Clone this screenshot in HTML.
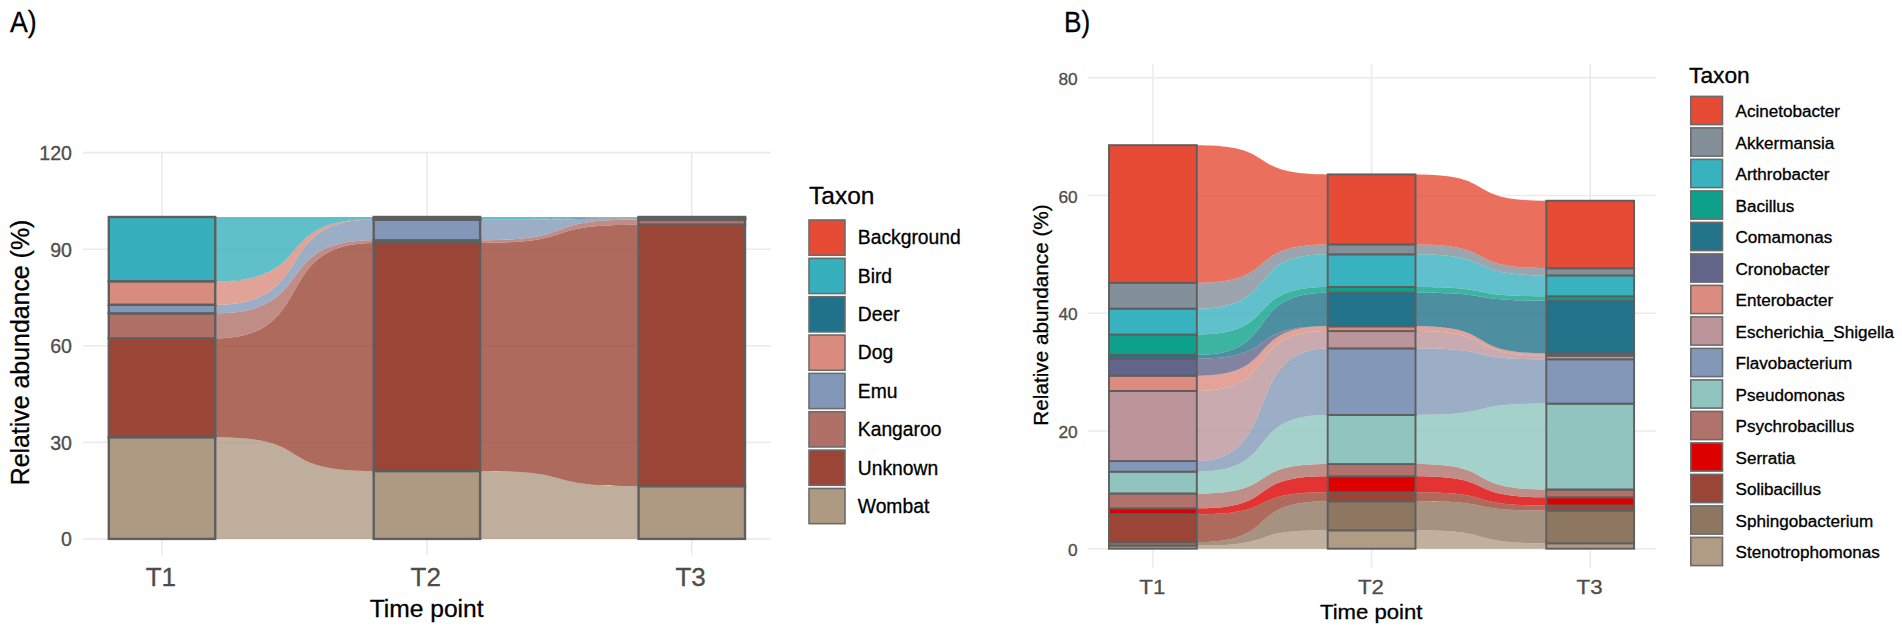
<!DOCTYPE html>
<html><head><meta charset="utf-8"><title>Alluvial plots</title>
<style>
html,body{margin:0;padding:0;background:#fff;width:1902px;height:638px;overflow:hidden}
svg{display:block;font-family:"Liberation Sans",Arial,sans-serif}
.g{stroke:#ebebeb;stroke-width:1.6}
.s{stroke:#5e5e5e;stroke-width:2.4}
.sb{stroke:#5e5e5e;stroke-width:1.9}
.k{stroke:#6b6b6b;stroke-width:1.6}
.lab{font-size:29.7px;fill:#000;stroke:#000;stroke-width:0.3}
.ta{font-size:19.6px;fill:#4d4d4d;stroke:#4d4d4d;stroke-width:0.3}
.tb{font-size:16px;fill:#4d4d4d;stroke:#4d4d4d;stroke-width:0.3}
.xa{font-size:26px;fill:#4d4d4d;stroke:#4d4d4d;stroke-width:0.3}
.xb{font-size:21px;fill:#4d4d4d;stroke:#4d4d4d;stroke-width:0.3}
.ttA{font-size:24.6px;fill:#000;stroke:#000;stroke-width:0.3}
.ttB{font-size:20.5px;fill:#000;stroke:#000;stroke-width:0.3}
.ytA{font-size:24.9px;fill:#000;stroke:#000;stroke-width:0.3}
.ytB{font-size:20.75px;fill:#000;stroke:#000;stroke-width:0.3}
.legtA{font-size:24.5px;fill:#000;stroke:#000;stroke-width:0.3}
.legtB{font-size:21.5px;fill:#000;stroke:#000;stroke-width:0.3}
.legA{font-size:19.3px;fill:#000;stroke:#000;stroke-width:0.3}
.legB{font-size:16px;fill:#000;stroke:#000;stroke-width:0.3}
</style></head>
<body>
<svg width="1902" height="638" viewBox="0 0 1902 638">
<rect width="1902" height="638" fill="#fff"/>
<g id="panelA">
<line x1="83" x2="771" y1="538.9" y2="538.9" class="g"/>
<line x1="83" x2="771" y1="442.33" y2="442.33" class="g"/>
<line x1="83" x2="771" y1="345.76" y2="345.76" class="g"/>
<line x1="83" x2="771" y1="249.19" y2="249.19" class="g"/>
<line x1="83" x2="771" y1="152.62" y2="152.62" class="g"/>
<line x1="162" x2="162" y1="152.6" y2="555" class="g"/>
<line x1="426.9" x2="426.9" y1="152.6" y2="555" class="g"/>
<line x1="691.8" x2="691.8" y1="152.6" y2="555" class="g"/>
<path d="M215.2,437.18C319.81,437.18 269.09,470.98 373.7,470.98L373.7,538.9C269.09,538.9 319.81,538.9 215.2,538.9Z" fill="#AE9A82" fill-opacity="0.8"/>
<path d="M215.2,338.42C319.81,338.42 269.09,242.91 373.7,242.91L373.7,470.98C269.09,470.98 319.81,437.18 215.2,437.18Z" fill="#9A4535" fill-opacity="0.8"/>
<path d="M215.2,313.34C319.81,313.34 269.09,240.34 373.7,240.34L373.7,242.91C269.09,242.91 319.81,338.42 215.2,338.42Z" fill="#B07068" fill-opacity="0.8"/>
<path d="M215.2,304.75C319.81,304.75 269.09,219.41 373.7,219.41L373.7,240.34C269.09,240.34 319.81,313.34 215.2,313.34Z" fill="#8398B8" fill-opacity="0.8"/>
<path d="M215.2,281.28C319.81,281.28 269.09,219.25 373.7,219.25L373.7,219.41C269.09,219.41 319.81,304.75 215.2,304.75Z" fill="#D98C7D" fill-opacity="0.8"/>
<path d="M215.2,281.28C319.81,281.28 269.09,219.09 373.7,219.09L373.7,219.25C269.09,219.25 319.81,281.28 215.2,281.28Z" fill="#20728A" fill-opacity="0.8"/>
<path d="M215.2,217C319.81,217 269.09,217 373.7,217L373.7,219.09C269.09,219.09 319.81,281.28 215.2,281.28Z" fill="#37B0BD" fill-opacity="0.8"/>
<path d="M480.1,470.98C584.71,470.98 533.99,486.11 638.6,486.11L638.6,538.9C533.99,538.9 584.71,538.9 480.1,538.9Z" fill="#AE9A82" fill-opacity="0.8"/>
<path d="M480.1,242.91C584.71,242.91 533.99,224.73 638.6,224.73L638.6,486.11C533.99,486.11 584.71,470.98 480.1,470.98Z" fill="#9A4535" fill-opacity="0.8"/>
<path d="M480.1,240.34C584.71,240.34 533.99,219.58 638.6,219.58L638.6,224.73C533.99,224.73 584.71,242.91 480.1,242.91Z" fill="#B07068" fill-opacity="0.8"/>
<path d="M480.1,219.41C584.71,219.41 533.99,218.93 638.6,218.93L638.6,219.58C533.99,219.58 584.71,240.34 480.1,240.34Z" fill="#8398B8" fill-opacity="0.8"/>
<path d="M480.1,219.25C584.71,219.25 533.99,218.45 638.6,218.45L638.6,218.93C533.99,218.93 584.71,219.41 480.1,219.41Z" fill="#D98C7D" fill-opacity="0.8"/>
<path d="M480.1,219.09C584.71,219.09 533.99,217.8 638.6,217.8L638.6,218.45C533.99,218.45 584.71,219.25 480.1,219.25Z" fill="#20728A" fill-opacity="0.8"/>
<path d="M480.1,217C584.71,217 533.99,217 638.6,217L638.6,217.8C533.99,217.8 584.71,219.09 480.1,219.09Z" fill="#37B0BD" fill-opacity="0.8"/>
<rect x="108.8" y="437.18" width="106.4" height="101.72" fill="#AE9A82" class="s"/>
<rect x="108.8" y="338.42" width="106.4" height="98.76" fill="#9A4535" class="s"/>
<rect x="108.8" y="313.34" width="106.4" height="25.08" fill="#B07068" class="s"/>
<rect x="108.8" y="304.75" width="106.4" height="8.59" fill="#8398B8" class="s"/>
<rect x="108.8" y="281.28" width="106.4" height="23.47" fill="#D98C7D" class="s"/>
<rect x="108.8" y="217" width="106.4" height="64.28" fill="#37B0BD" class="s"/>
<rect x="373.7" y="470.98" width="106.4" height="67.92" fill="#AE9A82" class="s"/>
<rect x="373.7" y="242.91" width="106.4" height="228.07" fill="#9A4535" class="s"/>
<rect x="373.7" y="240.34" width="106.4" height="2.58" fill="#B07068" class="s"/>
<rect x="373.7" y="219.41" width="106.4" height="20.92" fill="#8398B8" class="s"/>
<rect x="373.7" y="219.25" width="106.4" height="0.16" fill="#D98C7D" class="s"/>
<rect x="373.7" y="219.09" width="106.4" height="0.16" fill="#20728A" class="s"/>
<rect x="373.7" y="217" width="106.4" height="2.09" fill="#37B0BD" class="s"/>
<rect x="638.6" y="486.11" width="106.4" height="52.79" fill="#AE9A82" class="s"/>
<rect x="638.6" y="224.73" width="106.4" height="261.38" fill="#9A4535" class="s"/>
<rect x="638.6" y="219.58" width="106.4" height="5.15" fill="#B07068" class="s"/>
<rect x="638.6" y="218.93" width="106.4" height="0.64" fill="#8398B8" class="s"/>
<rect x="638.6" y="218.45" width="106.4" height="0.48" fill="#D98C7D" class="s"/>
<rect x="638.6" y="217.8" width="106.4" height="0.64" fill="#20728A" class="s"/>
<rect x="638.6" y="217" width="106.4" height="0.8" fill="#37B0BD" class="s"/>
</g>
<g id="panelB">
<line x1="1088" x2="1656" y1="548.7" y2="548.7" class="g"/>
<line x1="1088" x2="1656" y1="430.98" y2="430.98" class="g"/>
<line x1="1088" x2="1656" y1="313.26" y2="313.26" class="g"/>
<line x1="1088" x2="1656" y1="195.54" y2="195.54" class="g"/>
<line x1="1088" x2="1656" y1="77.82" y2="77.82" class="g"/>
<line x1="1152.9" x2="1152.9" y1="64" y2="568" class="g"/>
<line x1="1371.6" x2="1371.6" y1="64" y2="568" class="g"/>
<line x1="1590.2" x2="1590.2" y1="64" y2="568" class="g"/>
<path d="M1196.8,545.58C1283.19,545.58 1241.31,530.34 1327.7,530.34L1327.7,548.7C1241.31,548.7 1283.19,548.7 1196.8,548.7Z" fill="#B09C85" fill-opacity="0.8"/>
<path d="M1196.8,542.23C1283.19,542.23 1241.31,501.32 1327.7,501.32L1327.7,530.34C1241.31,530.34 1283.19,545.58 1196.8,545.58Z" fill="#8E7760" fill-opacity="0.8"/>
<path d="M1196.8,514.33C1283.19,514.33 1241.31,492.37 1327.7,492.37L1327.7,501.32C1241.31,501.32 1283.19,542.23 1196.8,542.23Z" fill="#9A4535" fill-opacity="0.8"/>
<path d="M1196.8,508.32C1283.19,508.32 1241.31,476.3 1327.7,476.3L1327.7,492.37C1241.31,492.37 1283.19,514.33 1196.8,514.33Z" fill="#DC0000" fill-opacity="0.8"/>
<path d="M1196.8,493.43C1283.19,493.43 1241.31,464.06 1327.7,464.06L1327.7,476.3C1241.31,476.3 1283.19,508.32 1196.8,508.32Z" fill="#B0726A" fill-opacity="0.8"/>
<path d="M1196.8,471.65C1283.19,471.65 1241.31,414.97 1327.7,414.97L1327.7,464.06C1241.31,464.06 1283.19,493.43 1196.8,493.43Z" fill="#8FC5BE" fill-opacity="0.8"/>
<path d="M1196.8,461.06C1283.19,461.06 1241.31,348.4 1327.7,348.4L1327.7,414.97C1241.31,414.97 1283.19,471.65 1196.8,471.65Z" fill="#8398B8" fill-opacity="0.8"/>
<path d="M1196.8,390.96C1283.19,390.96 1241.31,331.09 1327.7,331.09L1327.7,348.4C1241.31,348.4 1283.19,461.06 1196.8,461.06Z" fill="#BC959A" fill-opacity="0.8"/>
<path d="M1196.8,375.65C1283.19,375.65 1241.31,326.33 1327.7,326.33L1327.7,331.09C1241.31,331.09 1283.19,390.96 1196.8,390.96Z" fill="#DC8C7E" fill-opacity="0.8"/>
<path d="M1196.8,358.76C1283.19,358.76 1241.31,326.33 1327.7,326.33L1327.7,326.33C1241.31,326.33 1283.19,375.65 1196.8,375.65Z" fill="#626489" fill-opacity="0.8"/>
<path d="M1196.8,354.87C1283.19,354.87 1241.31,292.72 1327.7,292.72L1327.7,326.33C1241.31,326.33 1283.19,358.76 1196.8,358.76Z" fill="#22728A" fill-opacity="0.8"/>
<path d="M1196.8,334.51C1283.19,334.51 1241.31,286.95 1327.7,286.95L1327.7,292.72C1241.31,292.72 1283.19,354.87 1196.8,354.87Z" fill="#0DA08A" fill-opacity="0.8"/>
<path d="M1196.8,308.61C1283.19,308.61 1241.31,254.34 1327.7,254.34L1327.7,286.95C1241.31,286.95 1283.19,334.51 1196.8,334.51Z" fill="#38B2BF" fill-opacity="0.8"/>
<path d="M1196.8,282.71C1283.19,282.71 1241.31,244.39 1327.7,244.39L1327.7,254.34C1241.31,254.34 1283.19,308.61 1196.8,308.61Z" fill="#838F99" fill-opacity="0.8"/>
<path d="M1196.8,145.16C1283.19,145.16 1241.31,174.41 1327.7,174.41L1327.7,244.39C1241.31,244.39 1283.19,282.71 1196.8,282.71Z" fill="#E54B35" fill-opacity="0.8"/>
<path d="M1415.5,530.34C1501.83,530.34 1459.97,543.28 1546.3,543.28L1546.3,548.7C1459.97,548.7 1501.83,548.7 1415.5,548.7Z" fill="#B09C85" fill-opacity="0.8"/>
<path d="M1415.5,501.32C1501.83,501.32 1459.97,510.56 1546.3,510.56L1546.3,543.28C1459.97,543.28 1501.83,530.34 1415.5,530.34Z" fill="#8E7760" fill-opacity="0.8"/>
<path d="M1415.5,492.37C1501.83,492.37 1459.97,505.56 1546.3,505.56L1546.3,510.56C1459.97,510.56 1501.83,501.32 1415.5,501.32Z" fill="#9A4535" fill-opacity="0.8"/>
<path d="M1415.5,476.3C1501.83,476.3 1459.97,497.26 1546.3,497.26L1546.3,505.56C1459.97,505.56 1501.83,492.37 1415.5,492.37Z" fill="#DC0000" fill-opacity="0.8"/>
<path d="M1415.5,464.06C1501.83,464.06 1459.97,489.43 1546.3,489.43L1546.3,497.26C1459.97,497.26 1501.83,476.3 1415.5,476.3Z" fill="#B0726A" fill-opacity="0.8"/>
<path d="M1415.5,414.97C1501.83,414.97 1459.97,403.61 1546.3,403.61L1546.3,489.43C1459.97,489.43 1501.83,464.06 1415.5,464.06Z" fill="#8FC5BE" fill-opacity="0.8"/>
<path d="M1415.5,348.4C1501.83,348.4 1459.97,359.29 1546.3,359.29L1546.3,403.61C1459.97,403.61 1501.83,414.97 1415.5,414.97Z" fill="#8398B8" fill-opacity="0.8"/>
<path d="M1415.5,331.09C1501.83,331.09 1459.97,355.64 1546.3,355.64L1546.3,359.29C1459.97,359.29 1501.83,348.4 1415.5,348.4Z" fill="#BC959A" fill-opacity="0.8"/>
<path d="M1415.5,326.33C1501.83,326.33 1459.97,353.58 1546.3,353.58L1546.3,355.64C1459.97,355.64 1501.83,331.09 1415.5,331.09Z" fill="#DC8C7E" fill-opacity="0.8"/>
<path d="M1415.5,326.33C1501.83,326.33 1459.97,353.28 1546.3,353.28L1546.3,353.58C1459.97,353.58 1501.83,326.33 1415.5,326.33Z" fill="#626489" fill-opacity="0.8"/>
<path d="M1415.5,292.72C1501.83,292.72 1459.97,300.61 1546.3,300.61L1546.3,353.28C1459.97,353.28 1501.83,326.33 1415.5,326.33Z" fill="#22728A" fill-opacity="0.8"/>
<path d="M1415.5,286.95C1501.83,286.95 1459.97,296.31 1546.3,296.31L1546.3,300.61C1459.97,300.61 1501.83,292.72 1415.5,292.72Z" fill="#0DA08A" fill-opacity="0.8"/>
<path d="M1415.5,254.34C1501.83,254.34 1459.97,275.41 1546.3,275.41L1546.3,296.31C1459.97,296.31 1501.83,286.95 1415.5,286.95Z" fill="#38B2BF" fill-opacity="0.8"/>
<path d="M1415.5,244.39C1501.83,244.39 1459.97,268.23 1546.3,268.23L1546.3,275.41C1459.97,275.41 1501.83,254.34 1415.5,254.34Z" fill="#838F99" fill-opacity="0.8"/>
<path d="M1415.5,174.41C1501.83,174.41 1459.97,200.72 1546.3,200.72L1546.3,268.23C1459.97,268.23 1501.83,244.39 1415.5,244.39Z" fill="#E54B35" fill-opacity="0.8"/>
<rect x="1109" y="545.58" width="87.8" height="3.12" fill="#B09C85" class="sb"/>
<rect x="1109" y="542.23" width="87.8" height="3.36" fill="#8E7760" class="sb"/>
<rect x="1109" y="514.33" width="87.8" height="27.9" fill="#9A4535" class="sb"/>
<rect x="1109" y="508.32" width="87.8" height="6" fill="#DC0000" class="sb"/>
<rect x="1109" y="493.43" width="87.8" height="14.89" fill="#B0726A" class="sb"/>
<rect x="1109" y="471.65" width="87.8" height="21.78" fill="#8FC5BE" class="sb"/>
<rect x="1109" y="461.06" width="87.8" height="10.59" fill="#8398B8" class="sb"/>
<rect x="1109" y="390.96" width="87.8" height="70.1" fill="#BC959A" class="sb"/>
<rect x="1109" y="375.65" width="87.8" height="15.3" fill="#DC8C7E" class="sb"/>
<rect x="1109" y="358.76" width="87.8" height="16.89" fill="#626489" class="sb"/>
<rect x="1109" y="354.87" width="87.8" height="3.88" fill="#22728A" class="sb"/>
<rect x="1109" y="334.51" width="87.8" height="20.37" fill="#0DA08A" class="sb"/>
<rect x="1109" y="308.61" width="87.8" height="25.9" fill="#38B2BF" class="sb"/>
<rect x="1109" y="282.71" width="87.8" height="25.9" fill="#838F99" class="sb"/>
<rect x="1109" y="145.16" width="87.8" height="137.56" fill="#E54B35" class="sb"/>
<rect x="1327.7" y="530.34" width="87.8" height="18.36" fill="#B09C85" class="sb"/>
<rect x="1327.7" y="501.32" width="87.8" height="29.02" fill="#8E7760" class="sb"/>
<rect x="1327.7" y="492.37" width="87.8" height="8.95" fill="#9A4535" class="sb"/>
<rect x="1327.7" y="476.3" width="87.8" height="16.07" fill="#DC0000" class="sb"/>
<rect x="1327.7" y="464.06" width="87.8" height="12.24" fill="#B0726A" class="sb"/>
<rect x="1327.7" y="414.97" width="87.8" height="49.09" fill="#8FC5BE" class="sb"/>
<rect x="1327.7" y="348.4" width="87.8" height="66.57" fill="#8398B8" class="sb"/>
<rect x="1327.7" y="331.09" width="87.8" height="17.3" fill="#BC959A" class="sb"/>
<rect x="1327.7" y="326.33" width="87.8" height="4.77" fill="#DC8C7E" class="sb"/>
<rect x="1327.7" y="292.72" width="87.8" height="33.61" fill="#22728A" class="sb"/>
<rect x="1327.7" y="286.95" width="87.8" height="5.77" fill="#0DA08A" class="sb"/>
<rect x="1327.7" y="254.34" width="87.8" height="32.61" fill="#38B2BF" class="sb"/>
<rect x="1327.7" y="244.39" width="87.8" height="9.95" fill="#838F99" class="sb"/>
<rect x="1327.7" y="174.41" width="87.8" height="69.98" fill="#E54B35" class="sb"/>
<rect x="1546.3" y="543.28" width="87.8" height="5.42" fill="#B09C85" class="sb"/>
<rect x="1546.3" y="510.56" width="87.8" height="32.73" fill="#8E7760" class="sb"/>
<rect x="1546.3" y="505.56" width="87.8" height="5" fill="#9A4535" class="sb"/>
<rect x="1546.3" y="497.26" width="87.8" height="8.3" fill="#DC0000" class="sb"/>
<rect x="1546.3" y="489.43" width="87.8" height="7.83" fill="#B0726A" class="sb"/>
<rect x="1546.3" y="403.61" width="87.8" height="85.82" fill="#8FC5BE" class="sb"/>
<rect x="1546.3" y="359.29" width="87.8" height="44.32" fill="#8398B8" class="sb"/>
<rect x="1546.3" y="355.64" width="87.8" height="3.65" fill="#BC959A" class="sb"/>
<rect x="1546.3" y="353.58" width="87.8" height="2.06" fill="#DC8C7E" class="sb"/>
<rect x="1546.3" y="353.28" width="87.8" height="0.29" fill="#626489" class="sb"/>
<rect x="1546.3" y="300.61" width="87.8" height="52.68" fill="#22728A" class="sb"/>
<rect x="1546.3" y="296.31" width="87.8" height="4.3" fill="#0DA08A" class="sb"/>
<rect x="1546.3" y="275.41" width="87.8" height="20.9" fill="#38B2BF" class="sb"/>
<rect x="1546.3" y="268.23" width="87.8" height="7.18" fill="#838F99" class="sb"/>
<rect x="1546.3" y="200.72" width="87.8" height="67.51" fill="#E54B35" class="sb"/>
</g>
<g id="text">
<text transform="translate(10,31.5) scale(0.9,1)" class="lab">A)</text>
<text transform="translate(1064,31.7) scale(0.88,1)" class="lab">B)</text>
<text x="72" y="546.3" class="ta" text-anchor="end">0</text>
<text x="72" y="449.73" class="ta" text-anchor="end">30</text>
<text x="72" y="353.16" class="ta" text-anchor="end">60</text>
<text x="72" y="256.59" class="ta" text-anchor="end">90</text>
<text x="72" y="160.02" class="ta" text-anchor="end">120</text>
<text x="160.8" y="586.3" class="xa" text-anchor="middle">T1</text>
<text x="425.7" y="586.3" class="xa" text-anchor="middle">T2</text>
<text x="690.6" y="586.3" class="xa" text-anchor="middle">T3</text>
<text x="426.6" y="616.5" class="ttA" text-anchor="middle">Time point</text>
<text transform="translate(29.3,352.5) rotate(-90)" class="ytA" text-anchor="middle">Relative abundance (%)</text>
<text transform="translate(1077.6,555.7) scale(1.08,1)" class="tb" text-anchor="end">0</text>
<text transform="translate(1077.6,437.98) scale(1.08,1)" class="tb" text-anchor="end">20</text>
<text transform="translate(1077.6,320.26) scale(1.08,1)" class="tb" text-anchor="end">40</text>
<text transform="translate(1077.6,202.54) scale(1.08,1)" class="tb" text-anchor="end">60</text>
<text transform="translate(1077.6,84.82) scale(1.08,1)" class="tb" text-anchor="end">80</text>
<text transform="translate(1152.3,594) scale(1.06,1)" class="xb" text-anchor="middle">T1</text>
<text transform="translate(1371,594) scale(1.06,1)" class="xb" text-anchor="middle">T2</text>
<text transform="translate(1589.6,594) scale(1.06,1)" class="xb" text-anchor="middle">T3</text>
<text transform="translate(1371.2,619.3) scale(1.08,1)" class="ttB" text-anchor="middle">Time point</text>
<text transform="translate(1048.3,315) rotate(-90)" class="ytB" text-anchor="middle">Relative abundance (%)</text>
<text x="809" y="203.5" class="legtA">Taxon</text>
<rect x="809" y="220" width="36" height="35.2" fill="#E64B35" class="k"/>
<text x="857.8" y="244.4" class="legA">Background</text>
<rect x="809" y="258.35" width="36" height="35.2" fill="#37B0BD" class="k"/>
<text x="857.8" y="282.75" class="legA">Bird</text>
<rect x="809" y="296.7" width="36" height="35.2" fill="#20728A" class="k"/>
<text x="857.8" y="321.1" class="legA">Deer</text>
<rect x="809" y="335.05" width="36" height="35.2" fill="#D98C7D" class="k"/>
<text x="857.8" y="359.45" class="legA">Dog</text>
<rect x="809" y="373.4" width="36" height="35.2" fill="#8398B8" class="k"/>
<text x="857.8" y="397.8" class="legA">Emu</text>
<rect x="809" y="411.75" width="36" height="35.2" fill="#B07068" class="k"/>
<text x="857.8" y="436.15" class="legA">Kangaroo</text>
<rect x="809" y="450.1" width="36" height="35.2" fill="#9A4535" class="k"/>
<text x="857.8" y="474.5" class="legA">Unknown</text>
<rect x="809" y="488.45" width="36" height="35.2" fill="#AE9A82" class="k"/>
<text x="857.8" y="512.85" class="legA">Wombat</text>
<text transform="translate(1689,83.4) scale(1.06,1)" class="legtB">Taxon</text>
<rect x="1690.8" y="96.4" width="31.7" height="28.2" fill="#E54B35" class="k"/>
<text transform="translate(1735.5,117) scale(1.068,1)" class="legB">Acinetobacter</text>
<rect x="1690.8" y="127.9" width="31.7" height="28.2" fill="#838F99" class="k"/>
<text transform="translate(1735.5,148.5) scale(1.068,1)" class="legB">Akkermansia</text>
<rect x="1690.8" y="159.4" width="31.7" height="28.2" fill="#38B2BF" class="k"/>
<text transform="translate(1735.5,180) scale(1.068,1)" class="legB">Arthrobacter</text>
<rect x="1690.8" y="190.9" width="31.7" height="28.2" fill="#0DA08A" class="k"/>
<text transform="translate(1735.5,211.5) scale(1.068,1)" class="legB">Bacillus</text>
<rect x="1690.8" y="222.4" width="31.7" height="28.2" fill="#22728A" class="k"/>
<text transform="translate(1735.5,243) scale(1.068,1)" class="legB">Comamonas</text>
<rect x="1690.8" y="253.9" width="31.7" height="28.2" fill="#626489" class="k"/>
<text transform="translate(1735.5,274.5) scale(1.068,1)" class="legB">Cronobacter</text>
<rect x="1690.8" y="285.4" width="31.7" height="28.2" fill="#DC8C7E" class="k"/>
<text transform="translate(1735.5,306) scale(1.068,1)" class="legB">Enterobacter</text>
<rect x="1690.8" y="316.9" width="31.7" height="28.2" fill="#BC959A" class="k"/>
<text transform="translate(1735.5,337.5) scale(1.068,1)" class="legB">Escherichia_Shigella</text>
<rect x="1690.8" y="348.4" width="31.7" height="28.2" fill="#8398B8" class="k"/>
<text transform="translate(1735.5,369) scale(1.068,1)" class="legB">Flavobacterium</text>
<rect x="1690.8" y="379.9" width="31.7" height="28.2" fill="#8FC5BE" class="k"/>
<text transform="translate(1735.5,400.5) scale(1.068,1)" class="legB">Pseudomonas</text>
<rect x="1690.8" y="411.4" width="31.7" height="28.2" fill="#B0726A" class="k"/>
<text transform="translate(1735.5,432) scale(1.068,1)" class="legB">Psychrobacillus</text>
<rect x="1690.8" y="442.9" width="31.7" height="28.2" fill="#DC0000" class="k"/>
<text transform="translate(1735.5,463.5) scale(1.068,1)" class="legB">Serratia</text>
<rect x="1690.8" y="474.4" width="31.7" height="28.2" fill="#9A4535" class="k"/>
<text transform="translate(1735.5,495) scale(1.068,1)" class="legB">Solibacillus</text>
<rect x="1690.8" y="505.9" width="31.7" height="28.2" fill="#8E7760" class="k"/>
<text transform="translate(1735.5,526.5) scale(1.068,1)" class="legB">Sphingobacterium</text>
<rect x="1690.8" y="537.4" width="31.7" height="28.2" fill="#B09C85" class="k"/>
<text transform="translate(1735.5,558) scale(1.068,1)" class="legB">Stenotrophomonas</text>
</g>
</svg>
</body></html>
